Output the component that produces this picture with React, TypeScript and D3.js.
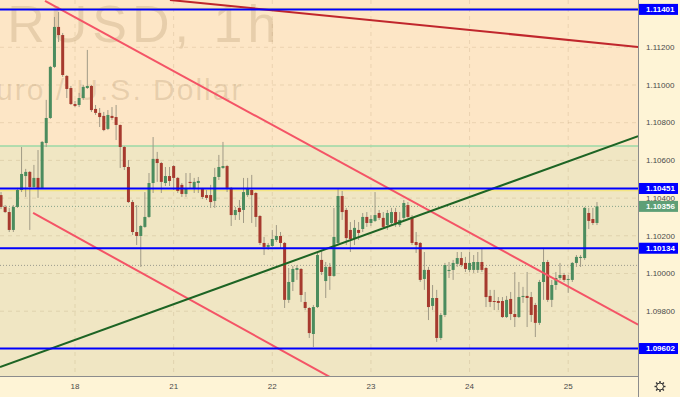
import React from "react";
import * as d3 from "d3";

// EURUSD 1h candles (index = hour from 17 Oct 06:00)
const opens = [1.10416,1.10353,1.10326,1.10231,1.10353,1.10443,1.10517,1.10539,1.10459,1.10507,1.10454,1.10692,1.10825,1.11096,1.11308,1.11265,1.11048,1.10984,1.10899,1.10894,1.10931,1.10984,1.10995,1.10873,1.10852,1.10836,1.10767,1.10836,1.10830,1.10788,1.10671,1.10565,1.10379,1.10220,1.10199,1.10247,1.10300,1.10480,1.10608,1.10586,1.10480,1.10517,1.10570,1.10507,1.10470,1.10422,1.10486,1.10454,1.10480,1.10448,1.10416,1.10416,1.10385,1.10512,1.10560,1.10570,1.10454,1.10310,1.10348,1.10337,1.10416,1.10443,1.10427,1.10305,1.10162,1.10141,1.10146,1.10178,1.10199,1.10162,1.09860,1.09955,1.10019,1.10024,1.09849,1.09817,1.09679,1.09822,1.10072,1.09960,1.10035,1.09987,1.10162,1.10411,1.10337,1.10231,1.10188,1.10231,1.10236,1.10300,1.10268,1.10279,1.10321,1.10295,1.10257,1.10268,1.10326,1.10257,1.10295,1.10363,1.10300,1.10167,1.10162,1.09971,1.10019,1.09828,1.09870,1.09658,1.09780,1.10013,1.10019,1.10051,1.10082,1.10056,1.10019,1.10019,1.10019,1.10061,1.10029,1.09881,1.09854,1.09854,1.09854,1.09769,1.09865,1.09785,1.09769,1.09875,1.09881,1.09875,1.09833,1.09738,1.09955,1.10061,1.09860,1.09939,1.09976,1.09992,1.09966,1.09966,1.10056,1.10082,1.10082,1.10321,1.10289,1.10268];
const highs = [1.10432,1.10363,1.10348,1.10363,1.10454,1.10671,1.10555,1.10544,1.10576,1.10655,1.10703,1.10921,1.11101,1.11361,1.11387,1.11276,1.11053,1.10995,1.10915,1.10958,1.11000,1.11186,1.11000,1.10894,1.10878,1.10857,1.10867,1.10883,1.10894,1.10790,1.10676,1.10602,1.10390,1.10363,1.10257,1.10432,1.10533,1.10724,1.10645,1.10592,1.10565,1.10565,1.10576,1.10512,1.10480,1.10533,1.10533,1.10507,1.10512,1.10454,1.10443,1.10470,1.10560,1.10629,1.10698,1.10576,1.10459,1.10353,1.10390,1.10507,1.10507,1.10523,1.10432,1.10310,1.10194,1.10162,1.10231,1.10257,1.10220,1.10167,1.10029,1.10040,1.10045,1.10029,1.09902,1.09822,1.09833,1.10109,1.10125,1.10061,1.10056,1.10348,1.10448,1.10438,1.10348,1.10273,1.10284,1.10273,1.10321,1.10326,1.10310,1.10432,1.10337,1.10326,1.10337,1.10348,1.10348,1.10326,1.10390,1.10379,1.10310,1.10220,1.10167,1.10114,1.10035,1.09939,1.09913,1.09791,1.10056,1.10061,1.10072,1.10114,1.10114,1.10088,1.10114,1.10098,1.10114,1.10135,1.10035,1.09913,1.09913,1.09875,1.09875,1.09881,1.09902,1.10008,1.09955,1.09929,1.10008,1.09902,1.09844,1.09966,1.10130,1.10072,1.09966,1.10008,1.10056,1.10003,1.09992,1.10061,1.10098,1.10098,1.10353,1.10348,1.10348,1.10379];
const lows = [1.10342,1.10321,1.10220,1.10220,1.10348,1.10432,1.10406,1.10231,1.10454,1.10401,1.10448,1.10671,1.10820,1.11090,1.11228,1.11043,1.10931,1.10894,1.10883,1.10883,1.10921,1.10979,1.10857,1.10841,1.10777,1.10755,1.10761,1.10814,1.10708,1.10560,1.10549,1.10374,1.10204,1.10151,1.10035,1.10242,1.10295,1.10427,1.10486,1.10427,1.10464,1.10464,1.10443,1.10427,1.10406,1.10406,1.10454,1.10427,1.10427,1.10395,1.10390,1.10348,1.10348,1.10496,1.10555,1.10432,1.10252,1.10284,1.10284,1.10268,1.10406,1.10268,1.10247,1.10151,1.10098,1.10125,1.10141,1.10167,1.10135,1.09817,1.09844,1.09907,1.09966,1.09849,1.09806,1.09658,1.09610,1.09817,1.09992,1.09870,1.09913,1.09982,1.10151,1.10284,1.10151,1.10114,1.10151,1.10178,1.10220,1.10247,1.10252,1.10273,1.10284,1.10242,1.10231,1.10257,1.10247,1.10247,1.10284,1.10295,1.10151,1.10109,1.09955,1.09913,1.09753,1.09806,1.09637,1.09647,1.09769,1.09976,1.09966,1.10035,1.10035,1.10008,1.10008,1.10003,1.10003,1.10008,1.09822,1.09822,1.09806,1.09806,1.09764,1.09764,1.09753,1.09716,1.09764,1.09844,1.09716,1.09743,1.09663,1.09727,1.09860,1.09849,1.09822,1.09913,1.09966,1.09955,1.09897,1.09955,1.10035,1.10035,1.10072,1.10236,1.10257,1.10257];
const closes = [1.10353,1.10326,1.10231,1.10353,1.10443,1.10528,1.10539,1.10459,1.10507,1.10454,1.10698,1.10825,1.11096,1.11308,1.11265,1.11053,1.10979,1.10899,1.10889,1.10931,1.10990,1.10995,1.10867,1.10852,1.10830,1.10761,1.10841,1.10825,1.10788,1.10671,1.10565,1.10379,1.10220,1.10199,1.10252,1.10300,1.10480,1.10608,1.10586,1.10486,1.10517,1.10491,1.10507,1.10438,1.10422,1.10448,1.10480,1.10486,1.10491,1.10406,1.10401,1.10379,1.10512,1.10565,1.10570,1.10454,1.10310,1.10337,1.10326,1.10432,1.10454,1.10416,1.10300,1.10162,1.10141,1.10151,1.10183,1.10199,1.10162,1.09860,1.09955,1.10024,1.10029,1.09886,1.09817,1.09684,1.09822,1.10098,1.10008,1.10035,1.09987,1.10194,1.10411,1.10326,1.10188,1.10183,1.10242,1.10215,1.10300,1.10268,1.10289,1.10310,1.10295,1.10247,1.10321,1.10326,1.10268,1.10284,1.10374,1.10300,1.10162,1.10151,1.09966,1.10019,1.09822,1.09870,1.09658,1.09780,1.10045,1.10019,1.10056,1.10082,1.10045,1.10024,1.10056,1.10061,1.10061,1.10019,1.09875,1.09849,1.09849,1.09844,1.09769,1.09860,1.09785,1.09769,1.09875,1.09881,1.09870,1.09780,1.09738,1.09955,1.10061,1.09860,1.09939,1.09976,1.09992,1.09966,1.09971,1.10056,1.10088,1.10088,1.10348,1.10279,1.10268,1.10356];

const dayLabels = ["18", "21", "22", "23", "24", "25"];
const dayIndex = [18, 42, 66, 90, 114, 138];
const priceTicks = [1.112, 1.11, 1.108, 1.106, 1.104, 1.102, 1.1, 1.098];
const levels = [1.11401, 1.10451, 1.10134, 1.09602];
const yellowLevels = [1.11407, 1.10439];
const lastPrice = 1.10356;
const prevLevel = 1.10043;
const zoneTop = 1.10676;

const lineDarkRed = [[41.1, 1.11451], [155, 1.11202]];
const linePinkUpper = [[10.7, 1.11446], [155, 1.09729]];
const linePinkLower = [[7.8, 1.10321], [80, 1.09451]];
const lineGreen = [[-0.25, 1.09504], [155, 1.10729]];

const W = 680, H = 397, PW = 638, PH = 376;
const FONT = "'Liberation Sans', Arial, sans-serif";

export default function App() {
  const x = d3.scaleLinear().domain([-0.25, 154.98]).range([0, PW]);
  const y = d3.scaleLinear().domain([1.094562, 1.114509]).range([PH, 0]);
  const line = d3.line<number[]>().x((d) => x(d[0])).y((d) => y(d[1]));
  const bw = 3;
  const up = "#4b8c5e", down = "#a63a2e", wick = "#a09a86";

  const trend = (pts: number[][], color: string, key: string) => (
    <path key={key} d={line(pts) || ""} stroke={color} strokeWidth={2} fill="none" />
  );

  const gearTeeth = d3.range(8).map((k) => {
    const a = (k * Math.PI) / 4;
    return { x1: 660 + Math.cos(a) * 3.5, y1: 386.5 + Math.sin(a) * 3.5, x2: 660 + Math.cos(a) * 5.5, y2: 386.5 + Math.sin(a) * 5.5 };
  });

  return (
    <svg width={W} height={H} style={{ position: "absolute", left: 0, top: 0 }} fontFamily={FONT}>
      <defs>
        <clipPath id="plot"><rect x={0} y={0} width={PW} height={PH} /></clipPath>
      </defs>
      <rect x={0} y={0} width={W} height={H} fill="#fef4d6" />
      <rect x={0} y={0} width={PW} height={PH} fill="#fde6c6" />
      <g clipPath="url(#plot)">
        <rect x={0} y={y(zoneTop)} width={PW} height={PH - y(zoneTop)} fill="#f0e6c3" />
        {priceTicks.map((p) => (
          <line key={"g" + p} x1={0} x2={PW} y1={y(p)} y2={y(p)} stroke="rgba(140,110,70,0.16)" strokeDasharray="4 4" />
        ))}
        {dayIndex.map((d) => (
          <line key={"v" + d} x1={x(d)} x2={x(d)} y1={0} y2={PH} stroke="rgba(140,110,70,0.16)" strokeDasharray="4 4" />
        ))}
        <text x={-75} y={42} fontSize={52} letterSpacing={5} fill="rgba(140,105,60,0.19)">EURUSD, 1h</text>
        <text x={-26} y={100} fontSize={30} letterSpacing={2} fill="rgba(140,105,60,0.19)">Euro / U.S. Dollar</text>
        <line x1={0} x2={PW} y1={y(zoneTop)} y2={y(zoneTop)} stroke="#9ad8a6" strokeWidth={1.5} />
        {yellowLevels.map((p) => (
          <line key={"yl" + p} x1={0} x2={PW} y1={y(p)} y2={y(p)} stroke="#f4e46e" strokeWidth={1} />
        ))}
        <line x1={0} x2={PW} y1={y(lastPrice)} y2={y(lastPrice)} stroke="#86a38a" strokeDasharray="1 2" />
        <line x1={0} x2={PW} y1={y(prevLevel)} y2={y(prevLevel)} stroke="#9a9a8c" strokeDasharray="1 2" />
        {closes.map((c, i) => {
          const o = opens[i];
          const isUp = c >= o;
          const top = y(Math.max(o, c));
          const bot = y(Math.min(o, c));
          return (
            <g key={"c" + i}>
              <line x1={x(i)} x2={x(i)} y1={y(highs[i])} y2={y(lows[i])} stroke={wick} strokeWidth={1} />
              <rect x={x(i) - bw / 2} y={top} width={bw} height={Math.max(1, bot - top)} fill={isUp ? up : down} />
            </g>
          );
        })}
        {trend(lineDarkRed, "#c0262c", "dr")}
        {trend(linePinkUpper, "#f45466", "pu")}
        {trend(linePinkLower, "#f45466", "pl")}
        {trend(lineGreen, "#1d6424", "gr")}
        {levels.map((p) => (
          <line key={"lv" + p} x1={0} x2={PW} y1={y(p)} y2={y(p)} stroke="#0000ff" strokeWidth={2} />
        ))}
      </g>
      <line x1={PW + 0.5} x2={PW + 0.5} y1={0} y2={H} stroke="#8c8c8c" />
      <line x1={0} x2={PW} y1={PH + 0.5} y2={PH + 0.5} stroke="#8c8c8c" />
      {priceTicks.map((p) => (
        <text key={"t" + p} x={646} y={y(p)} dy="0.35em" fontSize={8} fill="#4a4a4a">{p.toFixed(5)}</text>
      ))}
      {dayLabels.map((l, k) => (
        <text key={"d" + l} x={x(dayIndex[k])} y={386.5} dy="0.35em" fontSize={8} fill="#4a4a4a" textAnchor="middle">{l}</text>
      ))}
      {levels.map((p) => (
        <g key={"lb" + p}>
          <rect x={PW + 1} y={y(p) - 5.5} width={39} height={11} fill="#0000ff" />
          <text x={646} y={y(p)} dy="0.35em" fontSize={8} fontWeight="bold" fill="#ffffff">{p.toFixed(5)}</text>
        </g>
      ))}
      <rect x={PW + 1} y={y(lastPrice) - 5.5} width={39} height={11} fill="#5e9f76" />
      <text x={646} y={y(lastPrice)} dy="0.35em" fontSize={8} fontWeight="bold" fill="#ffffff">{lastPrice.toFixed(5)}</text>
      <circle cx={660} cy={386.5} r={3.5} fill="none" stroke="#333" strokeWidth={1} />
      {gearTeeth.map((t, k) => (
        <line key={"gt" + k} x1={t.x1} y1={t.y1} x2={t.x2} y2={t.y2} stroke="#333" strokeWidth={1.4} />
      ))}
    </svg>
  );
}
